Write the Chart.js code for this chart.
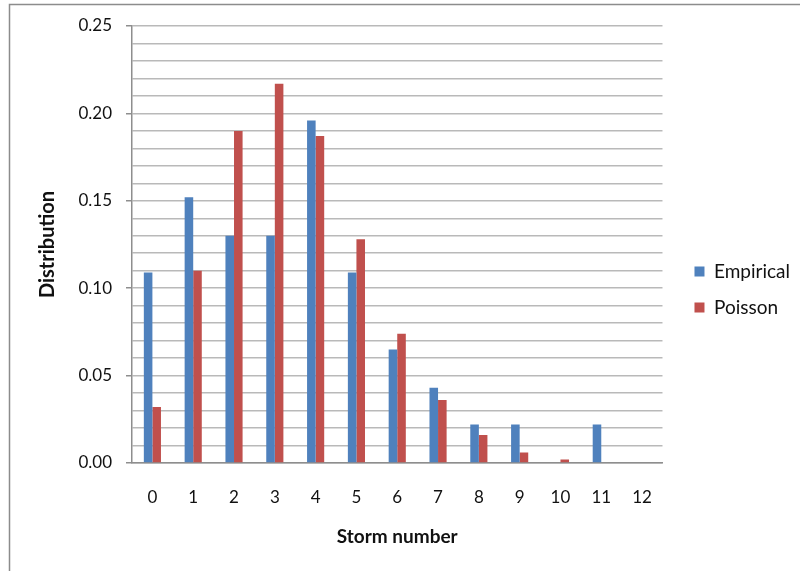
<!DOCTYPE html>
<html>
<head>
<meta charset="utf-8">
<script src="https://cdn.jsdelivr.net/npm/chart.js@4"></script>
<style>
  html, body { margin: 0; padding: 0; background: #fff; }
  #wrap { width: 800px; height: 571px; }
</style>
</head>
<body>
<div id="wrap"><canvas id="stormChart"></canvas></div>
<script>
const categories = ['0', '1', '2', '3', '4', '5', '6', '7', '8', '9', '10', '11', '12'];
const empirical = [0.109, 0.152, 0.130, 0.130, 0.196, 0.109, 0.065, 0.043, 0.022, 0.022, 0, 0.022, 0];
const poisson = [0.032, 0.110, 0.190, 0.217, 0.187, 0.128, 0.074, 0.036, 0.016, 0.006, 0.002, 0.0005, 0];

const FONT = 'Lato, "Open Sans", sans-serif';
const GRID = '#b9b9b9';
const AXIS = '#8e8e8e';
const TEXT = '#111';

// outer frame of the chart object (only left and top edges are in view)
const framePlugin = {
    id: 'frame',
    beforeDraw(chart) {
        const c = chart.ctx;
        c.save();
        c.strokeStyle = '#8c8c8c';
        c.lineWidth = 1.5;
        c.beginPath();
        c.moveTo(9.5, 571);
        c.lineTo(9.5, 4.5);
        c.lineTo(800, 4.5);
        c.stroke();
        c.restore();
    }
};

const isMajor = v => Math.round(v * 100) % 5 === 0;

new Chart(document.getElementById('stormChart').getContext('2d'), {
    type: 'bar',
    data: {
        labels: categories,
        datasets: [
            { label: 'Empirical', data: empirical, backgroundColor: '#4F81BD' },
            { label: 'Poisson', data: poisson, backgroundColor: '#C0504D' }
        ]
    },
    options: {
        responsive: true,
        maintainAspectRatio: false,
        animation: false,
        categoryPercentage: 0.42,
        barPercentage: 1.0,
        layout: { padding: { top: 26, right: 0, bottom: 18, left: 0 } },
        plugins: {
            tooltip: { enabled: false },
            legend: {
                display: true,
                position: 'right',
                labels: {
                    boxWidth: 10,
                    boxHeight: 10,
                    padding: 17,
                    color: TEXT,
                    font: { family: FONT, size: 19 }
                }
            }
        },
        scales: {
            x: {
                grid: { display: false },
                border: { display: true, color: AXIS, width: 1.5 },
                ticks: { color: TEXT, padding: 16, font: { family: FONT, size: 17 } },
                title: {
                    display: true,
                    text: 'Storm number',
                    color: TEXT,
                    font: { family: FONT, size: 19, weight: 'bold' },
                    padding: { top: 0, bottom: 5 }
                },
                afterFit: s => { s.height = 90; }
            },
            y: {
                min: 0,
                max: 0.25,
                grid: {
                    color: GRID,
                    lineWidth: 1.5,
                    tickLength: 6,
                    tickColor: ctx => isMajor(ctx.tick.value) ? AXIS : 'rgba(0,0,0,0)'
                },
                border: { display: true, color: AXIS, width: 1.5 },
                ticks: {
                    stepSize: 0.01,
                    autoSkip: false,
                    padding: 14,
                    color: TEXT,
                    font: { family: FONT, size: 17 },
                    callback: v => isMajor(v) ? v.toFixed(2) : ''
                },
                title: {
                    display: true,
                    text: 'Distribution',
                    color: TEXT,
                    font: { family: FONT, size: 20, weight: 'bold' },
                    padding: { top: 36, bottom: 0 }
                },
                afterFit: s => { s.width = 132; }
            },
            gap: {
                type: 'linear',
                position: 'right',
                display: true,
                grid: { display: false },
                border: { display: false },
                ticks: { display: false },
                afterFit: s => { s.width = 15; }
            }
        }
    },
    plugins: [framePlugin]
});
</script>
</body>
</html>
